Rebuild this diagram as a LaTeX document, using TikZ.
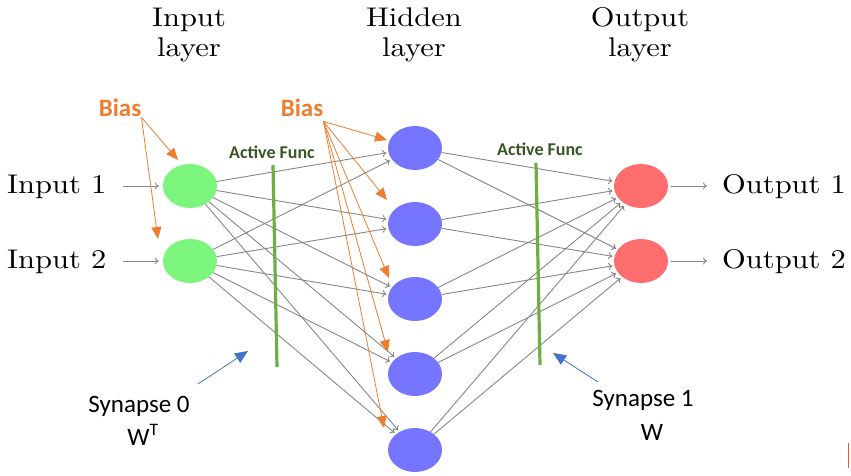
\documentclass[tikz,border=0pt]{standalone}
\usepackage{fontspec}
\newfontfamily\calfont{Carlito}
\usetikzlibrary{shapes.geometric,arrows.meta}
\definecolor{biasor}{HTML}{ED7D31}
\definecolor{synblue}{HTML}{4472C4}
\definecolor{actgreen}{HTML}{70AD47}
\definecolor{acttext}{HTML}{375623}
\definecolor{ingreen}{RGB}{124,245,124}
\definecolor{hidblue}{RGB}{117,117,255}
\definecolor{outred}{RGB}{255,110,110}
\definecolor{edgegray}{RGB}{135,135,135}
\definecolor{edgemark}{RGB}{235,85,45}
\newcommand\lmtext[1]{\scalebox{3.05}[2.7]{#1}}
\begin{document}
\begin{tikzpicture}[x=1pt,y=-1pt,
  neuron/.style={ellipse,minimum width=54pt,minimum height=44pt,inner sep=0pt,draw=none},
  lbl/.style={inner sep=0pt,anchor=base},
  conn/.style={draw=edgegray,line width=0.9pt,-{To[length=4pt,width=7pt]},shorten >=1.5pt},
  biasarrow/.style={draw=biasor,line width=0.8pt,-{Triangle[length=12pt,width=10pt]}},
  synarrow/.style={draw=synblue,line width=0.8pt,-{Triangle[length=13pt,width=11pt]}},
  actline/.style={draw=actgreen,line width=3.2pt},
  biastext/.style={lbl,font=\calfont\bfseries\fontsize{25}{30}\selectfont,text=biasor},
  acttxt/.style={lbl,font=\calfont\bfseries\fontsize{18}{22}\selectfont,text=acttext},
  syntxt/.style={lbl,font=\calfont\fontsize{25}{30}\selectfont},
]
\useasboundingbox (0,0) rectangle (851,476);

% headers
\node[lbl] (hi1) at (189,27) {\lmtext{Input}};
\node[lbl] (hi2) at (189,57) {\lmtext{layer}};
\node[lbl] (hh1) at (414,27) {\lmtext{Hidden}};
\node[lbl] (hh2) at (414,57) {\lmtext{layer}};
\node[lbl] (ho1) at (640,27) {\lmtext{Output}};
\node[lbl] (ho2) at (640,57) {\lmtext{layer}};

% neurons
\node[neuron,fill=ingreen] (I1) at (190,186) {};
\node[neuron,fill=ingreen] (I2) at (190,261) {};
\node[neuron,fill=hidblue] (H1) at (415,148) {};
\node[neuron,fill=hidblue] (H2) at (415,224) {};
\node[neuron,fill=hidblue] (H3) at (415,299) {};
\node[neuron,fill=hidblue] (H4) at (415,374) {};
\node[neuron,fill=hidblue] (H5) at (415,450) {};
\node[neuron,fill=outred] (O1) at (641,186) {};
\node[neuron,fill=outred] (O2) at (641,261) {};

% input / output labels
\node[lbl,anchor=base west] (in1) at (7,193) {\lmtext{Input 1}};
\node[lbl,anchor=base west] (in2) at (7,268) {\lmtext{Input 2}};
\node[lbl,anchor=base west] (out1) at (722,193) {\lmtext{Output 1}};
\node[lbl,anchor=base west] (out2) at (722,268) {\lmtext{Output 2}};
\coordinate (a1) at (123,186);
\coordinate (a2) at (123,261);
\coordinate (b1) at (707,186);
\coordinate (b2) at (707,261);
\draw[conn,shorten >=4pt] (a1) -- (I1);
\draw[conn,shorten >=4pt] (a2) -- (I2);
\draw[conn,shorten <=3pt,shorten >=0pt] (O1) -- (b1);
\draw[conn,shorten <=3pt,shorten >=0pt] (O2) -- (b2);

% connections
\foreach \i in {1,2}
  \foreach \h in {1,...,5}
    \draw[conn,shorten >=2pt] (I\i) -- (H\h);
\foreach \h in {1,...,5}
  \foreach \o in {1,2}
    \draw[conn,shorten >=2pt] (H\h) -- (O\o);

% activation lines
\draw[actline] (273,165) -- (277,367);
\draw[actline] (536,163) -- (540,365);
\node[acttxt] (af1) at (272,158) {Active Func};
\node[acttxt] (af2) at (540,155) {Active Func};

% bias
\node[biastext] (bias1) at (120,117) {Bias};
\node[biastext] (bias2) at (302,117) {Bias};
\coordinate (t11) at (178,160);
\coordinate (t12) at (158,239);
\coordinate (t21) at (387,140);
\coordinate (t22) at (387,200);
\coordinate (t23) at (389,278);
\coordinate (t24) at (388,352);
\coordinate (t25) at (384,428);
\draw[biasarrow] (bias1.south east) -- (t11);
\draw[biasarrow] (bias1.south east) -- (t12);
\foreach \k in {1,...,5}
  \draw[biasarrow] ([yshift=-4pt]bias2.south east) -- (t2\k);

% synapses
\node[syntxt] (s0) at (139,412) {Synapse 0};
\node[syntxt] (w0) at (143,445) {W\textsuperscript{T}};
\node[syntxt] (s1) at (643,406) {Synapse 1};
\node[syntxt] (w1) at (652,440) {W};
\coordinate (sa0) at (198,384);
\coordinate (se0) at (248,351);
\coordinate (sa1) at (598,382);
\coordinate (se1) at (553,353);
\draw[synarrow] (sa0) -- (se0);
\draw[synarrow] (sa1) -- (se1);

% small mark at the right edge
\draw[draw=edgemark,line width=1.4pt] (848.5,443) -- (848.5,468);
\end{tikzpicture}
\end{document}
